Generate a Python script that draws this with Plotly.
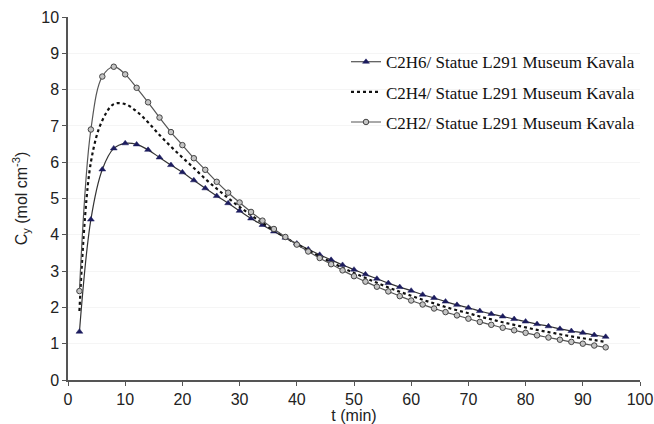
import plotly.graph_objects as go

t = [2, 4, 6, 8, 10, 12, 14, 16, 18, 20, 22, 24, 26, 28, 30, 32, 34, 36, 38, 40,
     42, 44, 46, 48, 50, 52, 54, 56, 58, 60, 62, 64, 66, 68, 70, 72, 74, 76, 78, 80,
     82, 84, 86, 88, 90, 92, 94]

c2h6 = [1.33, 4.42, 5.80, 6.38, 6.52, 6.49, 6.34, 6.13, 5.92, 5.72, 5.50, 5.28, 5.07, 4.87,
        4.66, 4.45, 4.27, 4.09, 3.92, 3.76, 3.60, 3.45, 3.31, 3.17, 3.04, 2.91, 2.79, 2.67,
        2.56, 2.46, 2.35, 2.26, 2.16, 2.07, 1.99, 1.90, 1.82, 1.75, 1.68, 1.61, 1.54, 1.48,
        1.41, 1.35, 1.30, 1.24, 1.19]

c2h4 = [1.90, 6.00, 7.15, 7.60, 7.60, 7.40, 7.10, 6.75, 6.43, 6.13, 5.84, 5.54, 5.27, 5.01,
        4.77, 4.54, 4.33, 4.12, 3.93, 3.74, 3.57, 3.40, 3.25, 3.09, 2.95, 2.81, 2.68, 2.55,
        2.43, 2.32, 2.21, 2.11, 2.01, 1.92, 1.84, 1.75, 1.67, 1.59, 1.52, 1.45, 1.38, 1.32,
        1.26, 1.20, 1.15, 1.10, 1.05]

c2h2 = [2.45, 6.90, 8.36, 8.63, 8.42, 8.05, 7.65, 7.23, 6.83, 6.47, 6.11, 5.79, 5.46, 5.16,
        4.89, 4.63, 4.39, 4.16, 3.94, 3.73, 3.54, 3.36, 3.19, 3.02, 2.86, 2.71, 2.57, 2.44,
        2.31, 2.19, 2.08, 1.97, 1.87, 1.78, 1.69, 1.60, 1.52, 1.44, 1.37, 1.30, 1.23, 1.17,
        1.11, 1.05, 1.00, 0.95, 0.90]

names = ["C2H6/ Statue L291 Museum Kavala",
         "C2H4/ Statue L291 Museum Kavala",
         "C2H2/ Statue L291 Museum Kavala"]

fig = go.Figure()
fig.add_trace(go.Scatter(
    x=t, y=c2h6, name=names[0], legendgroup="a", mode="lines+markers",
    line=dict(color="#333333", width=1.2, shape="spline"),
    marker=dict(symbol="triangle-up", size=6, color="#1c1c5e",
                line=dict(color="#1c1c5e", width=0.5))))
fig.add_trace(go.Scatter(
    x=t, y=c2h4, name=names[1], legendgroup="b", mode="lines",
    line=dict(color="#111111", width=2.2, dash="dot", shape="spline")))
fig.add_trace(go.Scatter(
    x=t, y=c2h2, name=names[2], legendgroup="c", mode="lines+markers",
    line=dict(color="#555555", width=1.2, shape="spline"),
    marker=dict(symbol="circle", size=5.5, color="#c4c4c4",
                line=dict(color="#444444", width=1))))

axis_font = dict(family="Liberation Sans, Arial, sans-serif", size=16, color="#222222")

fig.update_layout(
    width=654, height=424,
    margin=dict(l=68, r=14, t=17, b=44),
    paper_bgcolor="white", plot_bgcolor="white",
    showlegend=True,
    legend=dict(x=0.486, y=0.925, xanchor="left", yanchor="top",
                font=dict(family="Liberation Serif, Times New Roman, serif", size=17,
                          color="#111111"),
                bgcolor="rgba(0,0,0,0)", tracegroupgap=5, itemwidth=30),
    xaxis=dict(range=[0, 100], dtick=10, tick0=0, showgrid=False, zeroline=False,
               showline=True, linecolor="#555555", linewidth=1.5,
               ticks="outside", ticklen=4, tickcolor="#555555",
               tickfont=axis_font, automargin=False, ticklabeloverflow="allow",
               title=dict(text="t (min)", font=axis_font, standoff=0)),
    yaxis=dict(range=[0, 10], dtick=1, tick0=0, showgrid=True, gridcolor="#f5f5f5",
               zeroline=False, showline=True, linecolor="#555555", linewidth=1.5,
               ticks="outside", ticklen=4, tickcolor="#555555",
               tickfont=axis_font, automargin=False, ticklabeloverflow="allow",
               title=dict(text="C<sub>y</sub> (mol cm<sup>-3</sup>)", font=axis_font,
                          standoff=10)),
)

fig.write_html("out.html")
